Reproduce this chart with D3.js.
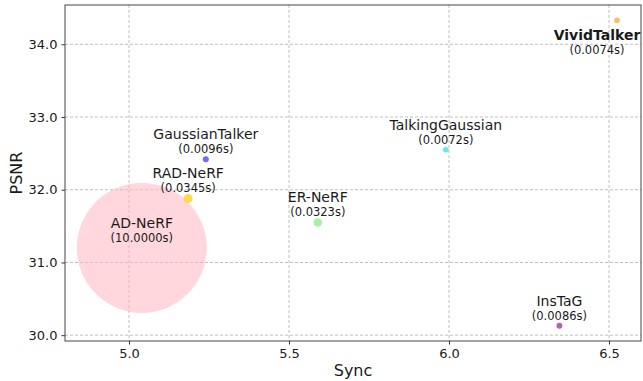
<!DOCTYPE html>
<html lang="en">
<head>
<meta charset="utf-8">
<title>PSNR vs Sync</title>
<script src="https://d3js.org/d3.v7.min.js"></script>
<style>
    body { margin: 0; background: #fff; }
    text { font-family: "DejaVu Sans", sans-serif; fill: #1a1a1a; }
</style>
</head>
<body>
<script>
// Data
var methods = ["AD-NeRF", "RAD-NeRF", "GaussianTalker", "ER-NeRF", "TalkingGaussian", "InsTaG", "VividTalker"];
var sync    = [5.04, 5.185, 5.24, 5.59, 5.99, 6.345, 6.525];
var psnr    = [31.20, 31.88, 32.42, 31.55, 32.55, 30.13, 34.33];
var times   = [10.0, 0.0345, 0.0096, 0.0323, 0.0072, 0.0086, 0.0074];
var colors  = ["#ffb6c1", "#ffd21e", "#4b4bf0", "#90ee90", "#40e0f0", "#9b3aa6", "#f6b040"];
var xTicks  = [5.0, 5.5, 6.0, 6.5];
var yTicks  = [30.0, 31.0, 32.0, 33.0, 34.0];

var w = 643, h = 381;
var margin = {left: 65, right: 2, top: 5, bottom: 40};

var svg = d3.select("body").append("svg")
    .attr("width", w).attr("height", h);

var x = d3.scaleLinear().domain([4.8, 6.6]).range([margin.left, w - margin.right]);
var y = d3.scaleLinear().domain([29.92, 34.54]).range([h - margin.bottom, margin.top]);
// marker area grows with inference time
var area = d3.scaleLinear().domain([0, 10]).range([5, 4225]);
function radius(t) { return Math.sqrt(area(t)); }

// grid
svg.append("g")
    .selectAll("line").data(xTicks).join("line")
    .attr("x1", d => x(d)).attr("x2", d => x(d))
    .attr("y1", margin.top).attr("y2", h - margin.bottom)
    .attr("stroke", "#b0b0b0").attr("stroke-width", 0.8).attr("stroke-dasharray", "3,2");
svg.append("g")
    .selectAll("line").data(yTicks).join("line")
    .attr("x1", margin.left).attr("x2", w - margin.right)
    .attr("y1", d => y(d)).attr("y2", d => y(d))
    .attr("stroke", "#b0b0b0").attr("stroke-width", 0.8).attr("stroke-dasharray", "3,2");

var rows = methods.map(function(m, i) {
    return {name: m, x: sync[i], y: psnr[i], t: times[i], c: colors[i]};
});

// bubbles
svg.append("g")
    .selectAll("circle").data(rows).join("circle")
    .attr("cx", d => x(d.x)).attr("cy", d => y(d.y))
    .attr("r", d => radius(d.t))
    .attr("fill", d => d.c)
    .attr("fill-opacity", d => d.name == "AD-NeRF" ? 0.55 : 0.8);

// labels
var lab = svg.append("g").selectAll("g").data(rows).join("g")
    .attr("transform", function(d) {
        if (d.name == "VividTalker") return "translate(" + (x(d.x) - 20) + "," + (y(d.y) + 40) + ")";
        return "translate(" + x(d.x) + "," + y(d.y) + ")";
    });
lab.append("text")
    .attr("text-anchor", "middle")
    .attr("y", -20)
    .style("font-size", "14px")
    .style("font-weight", d => d.name == "VividTalker" ? "bold" : "normal")
    .text(d => d.name);
lab.append("text")
    .attr("text-anchor", "middle")
    .attr("y", -6)
    .style("font-size", "11.5px")
    .text(d => "(" + d.t.toFixed(4) + "s)");

// axes
var xAxis = svg.append("g")
    .attr("transform", "translate(0," + (h - margin.bottom) + ")")
    .call(d3.axisBottom(x).tickValues(xTicks).tickFormat(d3.format(".1f")).tickSize(3.5).tickPadding(4));
var yAxis = svg.append("g")
    .attr("transform", "translate(" + margin.left + ",0)")
    .call(d3.axisLeft(y).tickValues(yTicks).tickFormat(d3.format(".1f")).tickSize(3.5).tickPadding(4));
[xAxis, yAxis].forEach(function(a) {
    a.select(".domain").remove();
    a.selectAll("text").style("font-size", "13px").style("font-family", "DejaVu Sans").attr("fill", "#1a1a1a");
    a.selectAll("line").attr("stroke", "#333");
});

// frame
svg.append("rect")
    .attr("x", margin.left).attr("y", margin.top)
    .attr("width", w - margin.left - margin.right)
    .attr("height", h - margin.top - margin.bottom)
    .attr("fill", "none").attr("stroke", "#444").attr("stroke-width", 1);

svg.append("text")
    .attr("x", (margin.left + w - margin.right) / 2).attr("y", h - 5)
    .attr("text-anchor", "middle").style("font-size", "16px").text("Sync");
svg.append("text")
    .attr("transform", "translate(22," + ((margin.top + h - margin.bottom) / 2) + ") rotate(-90)")
    .attr("text-anchor", "middle").style("font-size", "16px").text("PSNR");
</script>
</body>
</html>
